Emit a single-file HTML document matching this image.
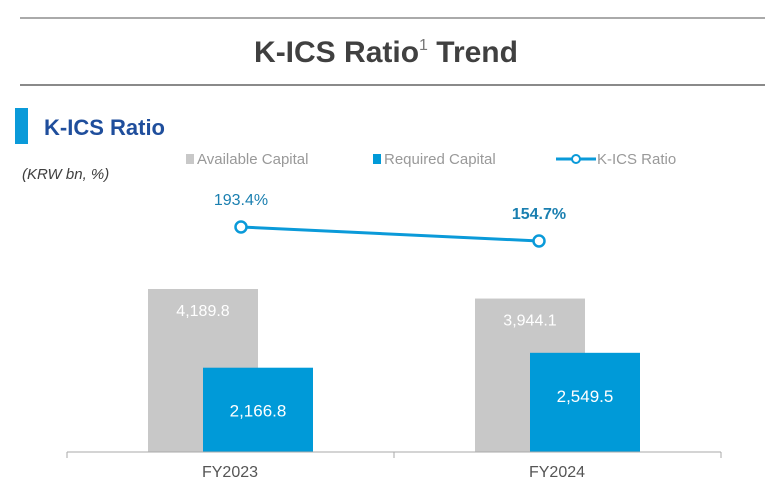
<!DOCTYPE html>
<html><head><meta charset="utf-8"><style>
body{margin:0;background:#fff;width:772px;height:482px;overflow:hidden;font-family:"Liberation Sans",sans-serif}
</style></head><body>
<svg width="772" height="482" style="position:absolute;left:0;top:0">
<line x1="20" y1="18" x2="765" y2="18" stroke="#777" stroke-width="1.3"/>
<line x1="20" y1="85" x2="765" y2="85" stroke="#444" stroke-width="1.3"/>
<text x="386" y="62" text-anchor="middle" font-size="30" font-weight="bold" fill="#404040">K-ICS Ratio<tspan font-size="16" font-weight="normal" fill="#777" dy="-12">1</tspan><tspan dy="12"> Trend</tspan></text>
<rect x="15" y="108" width="13" height="36" fill="#0a9ad9"/>
<text x="44" y="135" font-size="22" font-weight="bold" fill="#1f4e9c">K-ICS Ratio</text>
<text x="22" y="179" font-size="15" font-style="italic" fill="#404040">(KRW bn,  %)</text>
<g font-size="15" fill="#999">
<rect x="186" y="154" width="8" height="10" fill="#c8c8c8"/>
<text x="197" y="164">Available Capital</text>
<rect x="373" y="154" width="8" height="10" fill="#009ad8"/>
<text x="384" y="164">Required Capital</text>
<line x1="556" y1="159" x2="596" y2="159" stroke="#0a9ad9" stroke-width="3"/>
<circle cx="576" cy="159" r="4" fill="#fff" stroke="#0a9ad9" stroke-width="2"/>
<text x="597" y="164">K-ICS Ratio</text>
</g>
<g id="plot"></g>
<line x1="67" y1="452" x2="721" y2="452" stroke="#aaa" stroke-width="1"/>
<line x1="67" y1="452" x2="67" y2="458" stroke="#aaa"/>
<line x1="394" y1="452" x2="394" y2="458" stroke="#aaa"/>
<line x1="721" y1="452" x2="721" y2="458" stroke="#aaa"/>
</svg>
<script>
const categories=["FY2023","FY2024"];
const available=[4189.8,3944.1];
const required=[2166.8,2549.5];
const ratio=[193.4,154.7];
const ratioLabels=["193.4%","154.7%"];
const NS="http://www.w3.org/2000/svg";
const g=document.getElementById("plot");
const base=452,scale=163/4189.8;
const xc=i=>230+i*327;
const xr=i=>241+i*298;
const yv=v=>base-v*scale;
const yr=v=>227+(193.4-v)*0.3618;
function mk(t,a){const e=document.createElementNS(NS,t);for(const k in a)e.setAttribute(k,a[k]);g.appendChild(e);return e;}
categories.forEach((c,i)=>{
 const x=xc(i);
 let r=mk("rect",{x:x-82,y:yv(available[i]),width:110,height:available[i]*scale,fill:"#c8c8c8"});
 
 
 let t=mk("text",{x:x-27,y:yv(available[i])+27,"text-anchor":"middle","font-size":"16",fill:"#fff"});t.textContent=available[i].toLocaleString("en-US",{minimumFractionDigits:1});
 
 
 r=mk("rect",{x:x-27,y:yv(required[i]),width:110,height:required[i]*scale,fill:"#009ad8"});
 
 
 t=mk("text",{x:x+28,y:yv(required[i])+49,"text-anchor":"middle","font-size":"17",fill:"#fff"});t.textContent=required[i].toLocaleString("en-US",{minimumFractionDigits:1});
 
 
 t=mk("text",{x:x,y:477,"text-anchor":"middle","font-size":"16",fill:"#555"});t.textContent=c;
 
 
});
const pts=ratio.map((v,i)=>xr(i)+","+yr(v)).join(" ");
const pl=mk("polyline",{points:pts,fill:"none",stroke:"#0a9ad9","stroke-width":"3"});


ratio.forEach((v,i)=>{
 const c=mk("circle",{cx:xr(i),cy:yr(v),r:5.5,fill:"#fff",stroke:"#0a9ad9","stroke-width":"2.5"});
 
 
 const t=mk("text",{x:xr(i),y:yr(v)-22,"text-anchor":"middle","font-size":"16",fill:"#1a7fb0","font-weight":i==ratio.length-1?"bold":"normal"});
 t.textContent=ratioLabels[i];
 
 
});
</script>
</body></html>
